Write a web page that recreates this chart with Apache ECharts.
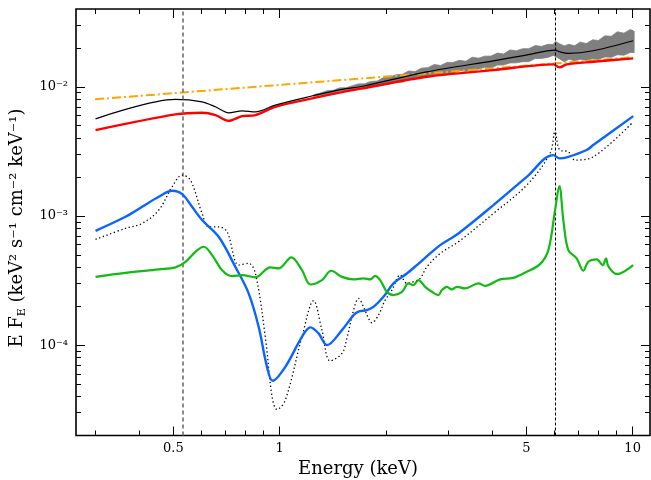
<!DOCTYPE html>
<html><head><meta charset="utf-8">
<script src="https://cdn.jsdelivr.net/npm/echarts@6/dist/echarts.min.js"></script>
<style>html,body{margin:0;padding:0;background:#fff}#c{width:651px;height:480px}</style>
</head><body><div id="c"></div>
<script>
// ---- axis ticks ----
const energyTicksMajor = [0.5, 1, 5, 10];
const energyTicksMinor = [0.3, 0.4, 0.6, 0.7, 0.8, 0.9, 2, 3, 4, 6, 7, 8, 9];
const fluxTicksMajor = [1e-4, 1e-3, 1e-2];
const fluxTicksMinor = [3e-5,4e-5,5e-5,6e-5,7e-5,8e-5,9e-5,2e-4,3e-4,4e-4,5e-4,6e-4,7e-4,8e-4,9e-4,2e-3,3e-3,4e-3,5e-3,6e-3,7e-3,8e-3,9e-3,2e-2,3e-2];
const lineEnergies = [0.53, 6.03];

// ---- observed data band (grey) ----
const greyE = [1.25,1.3,1.36,1.42,1.48,1.54,1.6,1.67,1.74,1.81,1.89,1.97,2.05,2.14,2.23,2.32,2.42,2.52,2.63,2.74,2.86,2.98,3.1,3.23,3.37,3.51,3.66,3.81,3.97,4.14,4.31,4.49,4.68,4.88,5.08,5.3,5.52,5.75,5.95,6.05,6.2,6.4,6.6,6.85,7.1,7.4,7.7,8.0,8.35,8.7,9.05,9.45,9.85,10.1];
const greyHi = [0.00870,0.00891,0.00931,0.00940,0.00981,0.00982,0.01015,0.01052,0.01054,0.01099,0.01108,0.01178,0.01186,0.01239,0.01249,0.01325,0.01312,0.01394,0.01407,0.01486,0.01462,0.01544,0.01543,0.01602,0.01576,0.01693,0.01665,0.01726,0.01728,0.01823,0.01793,0.01928,0.01899,0.01971,0.01973,0.02086,0.02054,0.02130,0.02127,0.02242,0.02156,0.02073,0.02131,0.02079,0.02216,0.02163,0.02310,0.02282,0.02479,0.02459,0.02666,0.02601,0.02774,0.02690];
const greyLo = [0.00840,0.00860,0.00883,0.00891,0.00930,0.00931,0.00946,0.00962,0.00964,0.01006,0.01014,0.01040,0.01047,0.01094,0.01083,0.01149,0.01158,0.01167,0.01199,0.01243,0.01223,0.01269,0.01269,0.01340,0.01318,0.01367,0.01368,0.01419,0.01395,0.01472,0.01474,0.01530,0.01533,0.01563,0.01565,0.01655,0.01658,0.01689,0.01748,0.01716,0.01651,0.01559,0.01631,0.01591,0.01636,0.01598,0.01646,0.01627,0.01704,0.01691,0.01769,0.01757,0.01840,0.01840];

// ---- models ----
const powerlawE = [0.3, 10];
const powerlawF = [0.0080, 0.0169];

const totalE = [0.301,0.507,0.603,0.658,0.717,0.783,0.854,0.972,1.208,1.502,1.72,2.613,4.033,5.0,6.03,6.215,6.573,7.735,10.04];
const totalF = [0.00565,0.00799,0.00765,0.00700,0.00629,0.00652,0.00640,0.00722,0.00837,0.00955,0.0101,0.01306,0.01589,0.0176,0.01923,0.01866,0.01813,0.0190,0.0227];

const redE = [0.301,0.507,0.603,0.658,0.717,0.783,0.854,0.972,1.208,1.502,1.72,2.613,4.033,5.962,6.215,6.505,7.735,10.04];
const redF = [0.00462,0.00611,0.00629,0.00604,0.00546,0.00593,0.00604,0.00700,0.00803,0.00910,0.00972,0.01195,0.01346,0.01491,0.01413,0.01491,0.01561,0.01659];

const blueE = [0.301,0.366,0.408,0.4546,0.4961,0.5295,0.565,0.603,0.672,0.7492,0.8171,0.8723,0.921,0.9554,1.038,1.157,1.222,1.289,1.362,1.502,1.62,1.673,1.767,1.845,1.969,2.102,2.294,2.448,2.67,2.85,3.21,4.033,5.013,5.962,6.215,6.505,7.41,7.735,10.04];
const blueF = [7.68e-4,9.86e-4,1.178e-3,1.408e-3,1.567e-3,1.477e-3,1.178e-3,9.30e-4,6.90e-4,4.04e-4,2.52e-4,1.388e-4,6.80e-5,5.30e-5,6.80e-5,1.161e-4,1.373e-4,1.234e-4,1.002e-4,1.309e-4,1.71e-4,1.82e-4,1.87e-4,1.98e-4,2.37e-4,3.01e-4,3.59e-4,4.17e-4,5.13e-4,5.95e-4,7.33e-4,1.214e-3,2.01e-3,2.96e-3,2.79e-3,2.84e-3,3.24e-3,3.54e-3,5.93e-3];

const dotE = [0.301,0.366,0.408,0.4546,0.4961,0.5295,0.559,0.603,0.630,0.672,0.710,0.766,0.817,0.854,0.911,0.952,0.983,1.038,1.157,1.248,1.318,1.391,1.502,1.551,1.620,1.673,1.729,1.786,1.826,1.906,1.991,2.080,2.196,2.294,2.394,2.501,2.613,2.850,3.210,4.033,5.013,5.834,6.03,6.215,6.573,6.866,7.735,9.936];
const dotF = [6.59e-4,8.02e-4,8.76e-4,1.111e-3,1.683e-3,2.073e-3,1.896e-3,1.047e-3,8.25e-4,8.25e-4,7.54e-4,4.17e-4,4.30e-4,3.59e-4,1.161e-4,3.99e-5,3.18e-5,3.76e-5,1.161e-4,2.21e-4,1.309e-4,7.57e-5,8.64e-5,1.129e-4,1.870e-4,2.30e-4,1.982e-4,1.612e-4,1.491e-4,1.710e-4,2.234e-4,2.67e-4,3.49e-4,3.01e-4,3.10e-4,3.29e-4,4.04e-4,5.13e-4,6.31e-4,1.047e-3,1.734e-3,3.05e-3,4.48e-3,3.24e-3,3.14e-3,2.71e-3,2.87e-3,5.21e-3];

const greenE = [0.301,0.366,0.4546,0.507,0.541,0.5773,0.6094,0.6437,0.6871,0.7333,0.783,0.854,0.941,0.9935,1.079,1.157,1.222,1.318,1.40,1.502,1.620,1.729,1.806,1.866,1.927,2.013,2.102,2.221,2.318,2.394,2.474,2.584,2.699,2.818,2.881,2.977,3.075,3.177,3.354,3.658,3.820,4.213,4.593,5.013,5.467,5.771,6.03,6.201,6.364,6.573,6.942,7.247,7.488,7.912,8.228,8.406,8.53,9.01,10.04];
const greenF = [3.38e-4,3.63e-4,3.86e-4,4.00e-4,4.42e-4,5.28e-4,5.78e-4,4.98e-4,3.81e-4,3.43e-4,3.49e-4,3.35e-4,4.00e-4,3.93e-4,4.78e-4,3.81e-4,2.95e-4,3.19e-4,3.77e-4,3.38e-4,3.23e-4,3.29e-4,3.23e-4,3.44e-4,3.19e-4,2.59e-4,2.44e-4,2.59e-4,3.01e-4,2.92e-4,3.19e-4,2.83e-4,2.59e-4,2.44e-4,2.67e-4,2.83e-4,2.70e-4,2.83e-4,2.75e-4,3.01e-4,2.88e-4,3.23e-4,3.32e-4,3.70e-4,4.24e-4,5.44e-4,1.111e-3,1.703e-3,9.30e-4,5.44e-4,4.70e-4,3.77e-4,4.42e-4,4.61e-4,4.17e-4,4.70e-4,4.09e-4,3.55e-4,4.17e-4];

const zip = (a, b) => a.map((v, i) => [v, b[i]]);
const FONT = 'DejaVu Serif';
const SUP = {'1':'¹','2':'²','3':'³','4':'⁴','5':'⁵'};

const XMIN = 0.265, XMAX = 11.2, YMIN = 2e-5, YMAX = 0.04;

function xAx(pos, ticks, len, labels) {
  return {
    type: 'log', logBase: 10, min: XMIN, max: XMAX, position: pos,
    axisLine: {show: false}, splitLine: {show: false}, minorTick: {show: false},
    axisTick: {show: true, inside: true, length: len, customValues: ticks, lineStyle: {color: '#000', width: 1}},
    axisLabel: labels ? {show: true, customValues: ticks, margin: 7, color: '#000',
      fontFamily: FONT, fontSize: 13, formatter: v => String(+v.toPrecision(3))} : {show: false}
  };
}
function yAx(pos, ticks, len, labels) {
  return {
    type: 'log', logBase: 10, min: YMIN, max: YMAX, position: pos,
    axisLine: {show: false}, splitLine: {show: false}, minorTick: {show: false},
    axisTick: {show: true, inside: true, length: len, customValues: ticks, lineStyle: {color: '#000', width: 1}},
    axisLabel: labels ? {show: true, customValues: ticks, margin: 8, color: '#000',
      fontFamily: FONT, fontSize: 13,
      formatter: v => { const e = Math.round(Math.log10(v)); return '10⁻' + SUP[String(-e)]; }} : {show: false}
  };
}

const chart = echarts.init(document.getElementById('c'), null, {renderer: 'canvas'});
chart.setOption({
  animation: false,
  backgroundColor: '#fff',
  grid: {left: 76, right: 1, top: 9, bottom: 44.5, show: true, borderColor: '#000', borderWidth: 1.6, backgroundColor: 'transparent'},
  xAxis: [
    xAx('bottom', energyTicksMajor, 9, true),
    xAx('bottom', energyTicksMinor, 5, false),
    xAx('top', energyTicksMajor, 9, false),
    xAx('top', energyTicksMinor, 5, false)
  ],
  yAxis: [
    yAx('left', fluxTicksMajor, 9, true),
    yAx('left', fluxTicksMinor, 5, false),
    yAx('right', fluxTicksMajor, 9, false),
    yAx('right', fluxTicksMinor, 5, false)
  ],
  graphic: [
    {type: 'text', x: 358, y: 469, style: {text: 'Energy (keV)', font: '18px "DejaVu Serif"', fill: '#000', align: 'center', verticalAlign: 'middle'}},
    {type: 'text', x: 17, y: 228, rotation: Math.PI / 2,
     style: {text: '{a|E F}{b|E}{a| (keV² s⁻¹ cm⁻² keV⁻¹)}', fill: '#000', align: 'center', verticalAlign: 'middle',
       rich: {a: {fontFamily: FONT, fontSize: 18, lineHeight: 22, verticalAlign: 'middle', fill: '#000'},
              b: {fontFamily: FONT, fontSize: 11, lineHeight: 11, verticalAlign: 'bottom', fill: '#000'}}}}
  ],
  series: [
    {
      type: 'custom', name: 'data', xAxisIndex: 0, yAxisIndex: 0, clip: true, z: 1,
      data: [[greyE[0], greyHi[0]]],
      renderItem: (params, api) => {
        const pts = [];
        for (let i = 0; i < greyE.length; i++) pts.push(api.coord([greyE[i], greyHi[i]]));
        for (let i = greyE.length - 1; i >= 0; i--) pts.push(api.coord([greyE[i], greyLo[i]]));
        return {type: 'polygon', shape: {points: pts}, style: {fill: '#7f7f7f', stroke: '#7f7f7f', lineWidth: 0.8}};
      }
    },
    {type: 'line', name: 'powerlaw', data: zip(powerlawE, powerlawF), showSymbol: false, z: 2,
     lineStyle: {color: '#ffa500', width: 2, type: [9, 3, 2, 3]}},
    {type: 'line', name: 'red', data: zip(redE, redF), showSymbol: false, smooth: 0.3, z: 3,
     lineStyle: {color: '#ff0000', width: 2.4}},
    {type: 'line', name: 'total', data: zip(totalE, totalF), showSymbol: false, smooth: 0.3, z: 4,
     lineStyle: {color: '#000', width: 1.2}},
    {type: 'line', name: 'dotted', data: zip(dotE, dotF), showSymbol: false, smooth: 0.35, z: 5,
     lineStyle: {color: '#000', width: 1.3, type: [1.3, 2.6]}},
    {type: 'line', name: 'blue', data: zip(blueE, blueF), showSymbol: false, smooth: 0.35, z: 6,
     lineStyle: {color: '#0a64ff', width: 2.4}},
    {type: 'line', name: 'green', data: zip(greenE, greenF), showSymbol: false, smooth: 0.35, z: 7,
     lineStyle: {color: '#11bb11', width: 2.2},
     markLine: {symbol: 'none', silent: true, label: {show: false},
       data: [
         {xAxis: lineEnergies[0], lineStyle: {color: '#6e6e6e', width: 1.6, type: [4, 3]}},
         {xAxis: lineEnergies[1], lineStyle: {color: '#000', width: 1, type: [3, 2]}}
       ]}}
  ]
});
</script></body></html>
